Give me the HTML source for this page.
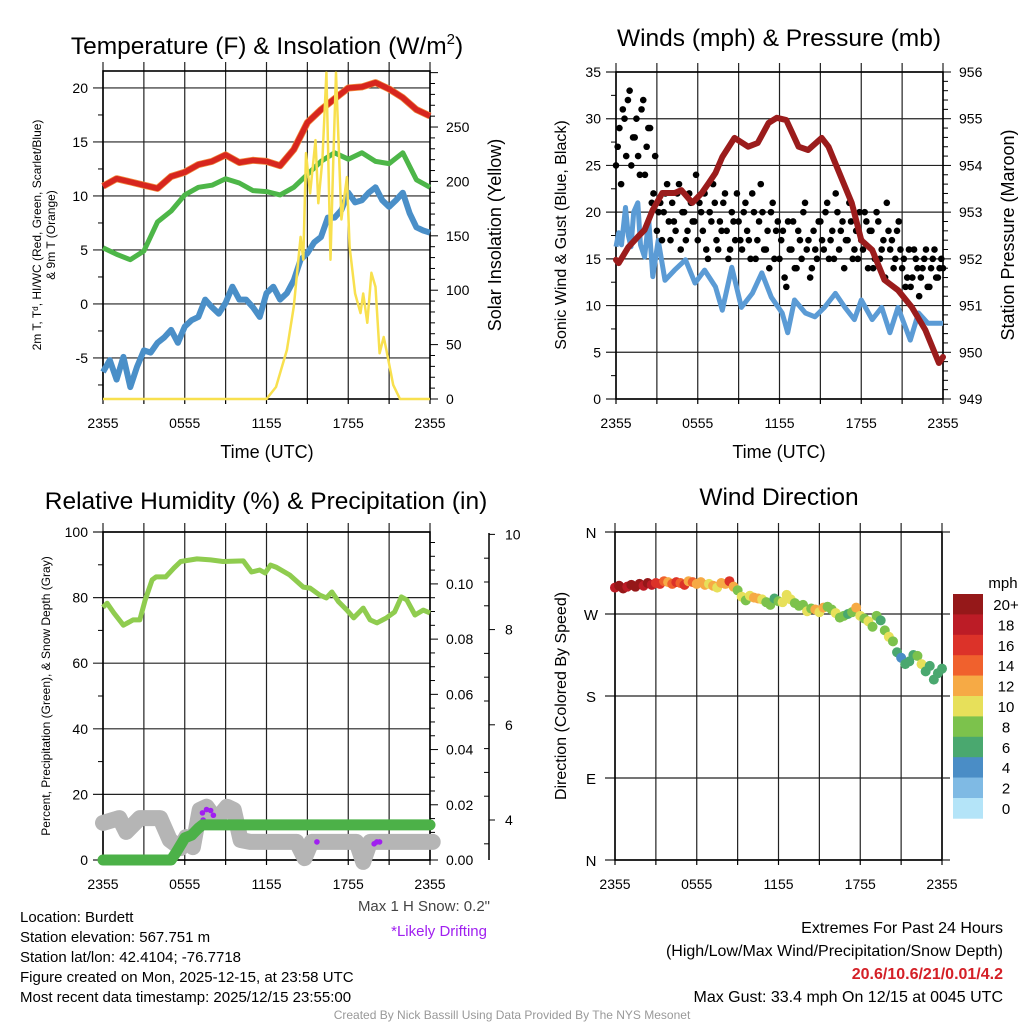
<!DOCTYPE html>
<html><head><meta charset="utf-8"><style>
html,body{margin:0;padding:0;background:#fff;}
svg{display:block;font-family:"Liberation Sans",Arial,sans-serif;}
</style></head><body>
<svg id="chart" width="1024" height="1024" viewBox="0 0 1024 1024" xmlns="http://www.w3.org/2000/svg"></svg>
<script>
// ---------- DATA ----------
const hourTicks = [0,6,12,18,24];
const timeLabels = ["2355","0555","1155","1755","2355"];
const hourly = [0,1,2,3,4,5,6,7,8,9,10,11,12,13,14,15,16,17,18,19,20,21,22,23,24];
const tempRed = [10.9,11.6,11.3,11.0,10.7,11.8,12.2,12.9,13.2,13.8,13.1,13.3,13.2,12.8,14.3,16.8,18.0,19.0,20.0,20.1,20.5,19.9,19.1,18.0,17.4];
const dewGreen = [5.2,4.6,4.1,4.9,7.6,8.6,10.1,10.8,11.0,11.6,11.2,10.5,10.4,10.1,10.8,12.0,13.2,14.0,13.4,14.0,13.2,13.0,14.0,11.5,10.8];
const halfHourly = [0,0.5,1,1.5,2,2.5,3,3.5,4,4.5,5,5.5,6,6.5,7,7.5,8,8.5,9,9.5,10,10.5,11,11.5,12,12.5,13,13.5,14,14.5,15,15.5,16,16.5,17,17.5,18,18.5,19,19.5,20,20.5,21,21.5,22,22.5,23,23.5,24];
const windChill = [-6.3,-5.2,-7.0,-4.9,-7.7,-5.8,-4.3,-4.5,-3.6,-3.1,-2.4,-3.6,-2.1,-1.5,-1.2,0.4,-0.3,-0.9,0.1,1.6,0.4,0.4,-0.3,-1.2,1.0,1.6,0.4,1.0,2.2,4.1,4.7,5.7,6.2,8.0,8.0,8.7,10.3,9.4,9.6,10.3,10.8,9.6,9.0,9.6,10.3,8.4,7.1,6.8,6.6];
const solarHours = [0,12,12.7,13.5,14,14.5,14.7,14.9,15.2,15.6,15.8,16.1,16.4,16.7,16.9,17.1,17.5,17.9,18.1,18.5,18.9,19.1,19.4,19.7,20,20.3,20.6,20.8,21.3,21.8,24];
const solarValues = [0,0,11,45,85,149,128,226,189,238,180,220,300,128,220,300,165,204,140,97,79,97,70,116,103,42,57,45,13,0,0];

const presHours = [0,0.2,0.9,1.6,2.1,2.7,3.4,4.3,4.8,5.6,6.3,6.8,7.3,7.8,8.7,9.7,10.4,11.2,11.8,12.5,13.4,14.1,15.1,15.6,16.6,17.3,18.0,18.8,19.7,20.7,21.7,22.7,23.7,24];
const presValues = [951.98,951.91,952.25,952.47,952.62,953.05,953.41,953.41,953.47,953.2,953.41,953.62,953.84,954.18,954.59,954.4,954.48,954.91,955.02,954.97,954.4,954.33,954.59,954.4,953.69,953.2,952.4,952.19,951.55,951.33,950.97,950.48,949.77,949.9];
const sonicHours = [0,0.2,0.4,0.7,0.9,1.1,1.3,1.6,1.8,2.1,2.4,2.7,3.1,3.6,4.3,5.1,5.8,6.5,7.3,7.8,8.5,9.2,10,10.7,11.4,12.2,12.6,13.1,13.9,14.6,15.3,16.1,16.8,17.5,18.0,18.8,19.5,20.1,20.7,21.6,22.2,22.9,24];
const sonicValues = [16.3,17.8,16.5,20.5,17.5,16.3,20.0,21,16.5,15.2,19.2,13.1,17,12.7,13.8,14.9,12.4,13.8,12,9.5,14.1,9.8,11.3,13.5,10.9,9.2,7.1,10.6,9.2,8.8,9.8,11.3,9.8,8.5,10.6,8.5,9.8,7.1,9.8,6.3,9.2,8.1,8.1];
const gustsA = [25,29,31,26,33,28,30,24,32,27,29,22, 18,21,20,23,17,19,22,16,20,18,21,19, 17,20,22,15,19,21,16,18,22,15,20,17, 19,16,21,17,22,15,19,20,16,14,21,18, 15,18,12,16,19,14,17,20,16,13,18,15, 19,16,21,17,15,20,18,14,17,19,16,15, 17,20,14,18,15,19,16,13,18,17,15,19, 14,12,16,13,15,11,14,16,12,15,13,14,14];
const gustsB = [27,23,30,32,25,28,26,31,24,29,21,26, 20,17,22,19,21,18,23,20,17,22,19,24, 21,18,16,20,23,17,19,21,18,16,19,22, 17,20,18,15,20,17,23,16,18,20,15,19, 17,13,19,16,14,18,15,21,17,14,16,19, 17,20,15,18,22,16,19,17,21,15,18,20, 16,19,18,14,20,15,17,21,16,14,18,16, 15,13,12,16,14,13,15,12,14,16,13,15];

const rhHours = [0,0.3,0.8,1.5,2.2,2.7,3.1,3.6,3.9,4.6,5.2,5.7,6.9,7.9,8.8,10.3,10.9,11.5,11.9,12.3,12.7,13.7,14.7,15.2,15.9,16.4,16.8,17.3,17.9,18.4,19.1,19.6,20.1,20.8,21.4,21.9,22.3,22.9,23.5,24];
const rhValues = [77,78.3,75.3,71.6,73.2,73.2,79.3,85.4,86.3,86.3,89,91,91.8,91.5,91,91.2,87.8,88.4,87.5,89.9,89.3,86.9,83.2,82.9,80.8,79.9,81.7,78.7,76.2,73.8,76.8,73.2,72.3,73.8,75.6,80.2,79.3,74.7,76.2,75.3];
const precipHours = [0,5.0,5.4,6.0,6.5,7.0,7.3,24];
const precipValues = [0,0,0.003,0.008,0.009,0.0115,0.0127,0.0127];
const snowHours = [0,1.2,1.7,2.7,4.2,4.9,5.7,6.1,6.6,7.1,7.6,8.3,9.1,9.6,10.1,10.8,14.2,14.8,15.3,18.6,19.1,19.6,24.2];
const snowValues = [3.94,4.04,3.75,4.04,4.04,3.58,3.41,3.64,3.43,4.21,4.28,4.0,4.28,4.21,3.58,3.54,3.54,3.2,3.54,3.54,3.12,3.54,3.54];
const driftHours = [7.35,7.3,7.6,7.9,8.1,15.7,19.9,20.1,20.3];
const driftValues = [4.0,4.15,4.22,4.2,4.1,3.54,3.5,3.54,3.54];

const dirHours = [];
const dirValues = [299,301,298,300,302,300,303,301,304,302, 304,303,306,305,303,305,304,302,306,305, 303,305,302,303,301,299,304,303,306,300, 296,289,285,290,288,287,286,283,280,287, 284,283,291,286,282,279,280,273,276,275, 272,277,278,275,271,266,268,270,272,277, 268,265,262,256,268,263,252,245,240,228, 222,215,218,225,224,215,207,213,198,205, 210];
const dirSpeeds = [19,21,20,19,21,20,21,19,21,18, 16,17,14,13,15,16,15,16,13,15, 12,12,12,11,12,10,12,13,16,12, 9,10,9,10,13,12,10,9,8,7, 9,10,10,11,8,9,8,10,9,12, 10,12,8,9,10,8,8,7,9,12, 10,8,10,8,9,7,9,10,8,7, 5,7,6,7,8,10,7,6,7,6, 7];
for (let i=0;i<dirValues.length;i++) dirHours.push(i*0.3);
const speedBins = [0,2,4,6,8,10,12,14,16,18,20];
const speedLabels = ["0","2","4","6","8","10","12","14","16","18","20+"];
const speedColors = ["#b4e4f8","#7fbae4","#4a8dc6","#4aa86f","#7cc24c","#e7e05a","#f6aa45","#f0612d","#dc3229","#bc1c26","#951819"];

// ---------- DRAWING ----------
const NS="http://www.w3.org/2000/svg";
const svg=document.getElementById('chart');
function mk(tag, attrs, name, parent){
  const el=document.createElementNS(NS,tag);
  for(const k in attrs) el.setAttribute(k, attrs[k]);
  
  
  (parent||svg).appendChild(el);
  return el;
}
function txt(x,y,s,size,anchor,name,extra){
  const a=Object.assign({x:x,y:y,'font-size':size,'text-anchor':anchor||'middle',fill:'#000'},extra||{});
  const t=mk('text',a,name);
  t.textContent=s;
  return t;
}
function vtxt(x,y,s,size,name,extra){
  const a=Object.assign({x:0,y:0,'font-size':size,'text-anchor':'middle',fill:'#000',transform:`translate(${x},${y}) rotate(-90)`},extra||{});
  const t=mk('text',a,name);
  t.textContent=s;
  return t;
}
function makeX(p){return h=>p.x0+h*(p.x1-p.x0)/24;}
function makeY(p,lo,hi){return v=>p.y1-(v-lo)*(p.y1-p.y0)/(hi-lo);}
function pathD(xs,ys,X,Y){let d='';for(let i=0;i<xs.length;i++){d+=(i?'L':'M')+X(xs[i]).toFixed(1)+','+Y(ys[i]).toFixed(1);}return d;}

function frame(p, leftTicks, Yl, leftLabels, name){
  const X=makeX(p);
  for(let h=0;h<=24;h+=3){
    mk('line',{x1:X(h),y1:p.y0-9,x2:X(h),y2:p.y1,stroke:'#222','stroke-width':1.2},name+'-vgrid');
    mk('line',{x1:X(h),y1:p.y1,x2:X(h),y2:p.y1+5,stroke:'#000','stroke-width':1.2},name+'-xtick');
  }
  leftTicks.forEach((v,i)=>{
    const y=Yl(v);
    mk('line',{x1:p.x0-10,y1:y,x2:p.x1,y2:y,stroke:'#222','stroke-width':1.2},name+'-hgrid');
    if(leftLabels) txt(p.x0-15,y+5,leftLabels[i],14,'end',name+'-ytick-label');
  });
  mk('rect',{x:p.x0,y:p.y0,width:p.x1-p.x0,height:p.y1-p.y0,fill:'none',stroke:'#000','stroke-width':1.6},name+'-plot-frame');
  hourTicks.forEach((h,i)=>txt(X(h),p.y1+29,timeLabels[i],14,'middle',name+'-xtick-label'));
}

// ===== Panel 1 =====
const P1={x0:103,x1:430,y0:71,y1:399};
const X1=makeX(P1), Y1=makeY(P1,-8.8,21.57), Y1r=makeY(P1,0,301.5);
frame(P1,[-5,0,5,10,15,20],Y1,["-5","0","5","10","15","20"],'temp-panel');
for(let v=-7.5;v<=21;v+=5){mk('line',{x1:P1.x0-5,y1:Y1(v),x2:P1.x0,y2:Y1(v),stroke:'#000'},'temp-minor-tick');}
for(let v=0;v<=300;v+=10){const mj=v%50===0;mk('line',{x1:P1.x1,y1:Y1r(v),x2:P1.x1+(mj?8:5),y2:Y1r(v),stroke:'#000'},'solar-axis-tick');if(mj&&v<300)txt(P1.x1+16,Y1r(v)+5,String(v),14,'start','solar-tick-label');}
mk('path',{d:pathD(hourly,tempRed,X1,Y1),fill:'none',stroke:'#f08a3c','stroke-width':7,'stroke-linejoin':'round'},'9m-temperature-line');
mk('path',{d:pathD(hourly,tempRed,X1,Y1),fill:'none',stroke:'#d7261e','stroke-width':5.5,'stroke-linejoin':'round'},'temperature-line');
mk('path',{d:pathD(hourly,dewGreen,X1,Y1),fill:'none',stroke:'#4db648','stroke-width':5,'stroke-linejoin':'round'},'dewpoint-line');
mk('path',{d:pathD(halfHourly,windChill,X1,Y1),fill:'none',stroke:'#4a8fc8','stroke-width':6,'stroke-linejoin':'round'},'wind-chill-line');
mk('path',{d:pathD(solarHours,solarValues,X1,Y1r),fill:'none',stroke:'#f8e04e','stroke-width':2.5,'stroke-linejoin':'round'},'solar-insolation-line');
const t1=txt(267,54,'Temperature (F) & Insolation (W/m',24.5,'middle','temp-panel-title');
const sup=document.createElementNS(NS,'tspan');sup.setAttribute('dy','-10');sup.setAttribute('font-size','15');sup.textContent='2';t1.appendChild(sup);
const cl=document.createElementNS(NS,'tspan');cl.setAttribute('dy','10');cl.textContent=')';t1.appendChild(cl);
txt(267,458,'Time (UTC)',18,'middle','temp-x-axis-title');
vtxt(41,235,'2m T, T\u1d48, HI/WC (Red, Green, Scarlet/Blue)',12,'temp-y-axis-title');
vtxt(55,235,'& 9m T (Orange)',12,'temp-y-axis-title-line2');
vtxt(501,235,'Solar Insolation (Yellow)',18,'solar-y-axis-title');

// ===== Panel 2 =====
const P2={x0:616,x1:943,y0:72,y1:399};
const X2=makeX(P2), Y2=makeY(P2,0,35), Y2r=makeY(P2,949,956);
frame(P2,[0,5,10,15,20,25,30,35],Y2,["0","5","10","15","20","25","30","35"],'wind-panel');
for(let v=2.5;v<35;v+=5){mk('line',{x1:P2.x0-5,y1:Y2(v),x2:P2.x0,y2:Y2(v),stroke:'#000'},'wind-minor-tick');}
for(let v=949;v<=956.001;v+=0.2){const mj=Math.abs(v-Math.round(v))<0.01;mk('line',{x1:P2.x1,y1:Y2r(v),x2:P2.x1+(mj?8:5),y2:Y2r(v),stroke:'#000'},'pressure-axis-tick');if(mj)txt(P2.x1+16,Y2r(v)+5,String(Math.round(v)),14,'start','pressure-tick-label');}
mk('path',{d:pathD(sonicHours,sonicValues,X2,Y2),fill:'none',stroke:'#5b9bd5','stroke-width':5,'stroke-linejoin':'round'},'sonic-wind-line');
gustsA.forEach((g,i)=>{mk('circle',{cx:X2(i*0.25),cy:Y2(g),r:3.3,fill:'#000'},'gust-point');});
gustsB.forEach((g,i)=>{mk('circle',{cx:X2(i*0.25+0.125),cy:Y2(g),r:3.3,fill:'#000'},'gust-point');});
mk('path',{d:pathD(presHours,presValues,X2,Y2r),fill:'none',stroke:'#9b1c1c','stroke-width':6,'stroke-linejoin':'round','stroke-linecap':'round'},'pressure-line');
txt(779,46,'Winds (mph) & Pressure (mb)',24.5,'middle','wind-panel-title');
txt(779,458,'Time (UTC)',18,'middle','wind-x-axis-title');
vtxt(566,235,'Sonic Wind & Gust (Blue, Black)',16,'wind-y-axis-title');
vtxt(1014,235,'Station Pressure (Maroon)',18,'pressure-y-axis-title');

// ===== Panel 3 =====
const P3={x0:103,x1:430,y0:532,y1:860};
const X3=makeX(P3), Y3=makeY(P3,0,100), Y3p=makeY(P3,0,0.1188), Y3s=makeY(P3,3.16,10.05);
frame(P3,[0,20,40,60,80,100],Y3,["0","20","40","60","80","100"],'rh-panel');
for(let v=10;v<100;v+=20){mk('line',{x1:P3.x0-5,y1:Y3(v),x2:P3.x0,y2:Y3(v),stroke:'#000'},'rh-minor-tick');}
for(let k=0;k<=23;k++){const v=k*0.005;const mj=k%4===0;mk('line',{x1:P3.x1,y1:Y3p(v),x2:P3.x1+(mj?8:5),y2:Y3p(v),stroke:'#000'},'precip-axis-tick');if(mj)txt(P3.x1+16,Y3p(v)+5,v.toFixed(2),14,'start','precip-tick-label');}
mk('line',{x1:489,y1:533,x2:489,y2:860,stroke:'#000','stroke-width':1.5},'snow-axis-line');
for(let k=7;k<=20;k++){const v=k*0.5;const mj=k%4===0;mk('line',{x1:mj?489:484,y1:Y3s(v),x2:mj?495:489,y2:Y3s(v),stroke:'#000'},'snow-axis-tick');if(mj)txt(505,Y3s(v)+5,String(v),14,'start','snow-tick-label');}
mk('path',{d:pathD(snowHours,snowValues,X3,Y3s),fill:'none',stroke:'#b5b5b5','stroke-width':16,'stroke-linejoin':'round','stroke-linecap':'round'},'snow-depth-line');
driftHours.forEach((h,i)=>{mk('circle',{cx:X3(h),cy:Y3s(driftValues[i]),r:2.8,fill:'#a020f0'},'drifting-point');});
mk('path',{d:pathD(precipHours,precipValues,X3,Y3p),fill:'none',stroke:'#4cb148','stroke-width':11,'stroke-linejoin':'round','stroke-linecap':'round'},'precipitation-line');
mk('path',{d:pathD(rhHours,rhValues,X3,Y3),fill:'none',stroke:'#8fcc4f','stroke-width':5,'stroke-linejoin':'round'},'relative-humidity-line');
txt(266,509,'Relative Humidity (%) & Precipitation (in)',24.5,'middle','rh-panel-title');
vtxt(50,696,'Percent, Precipitation (Green), & Snow Depth (Gray)',12,'rh-y-axis-title');

// ===== Panel 4 =====
const P4={x0:615,x1:942,y0:532,y1:860};
const X4=makeX(P4), Y4=makeY(P4,0,360);
frame(P4,[0,90,180,270,360],Y4,null,'dir-panel');
const dirLbl=["N","E","S","W","N"];
[0,90,180,270,360].forEach((v,i)=>{mk('line',{x1:P4.x1,y1:Y4(v),x2:P4.x1+8,y2:Y4(v),stroke:'#222','stroke-width':1.2},'dir-grid-ext');txt(591,Y4(v)+6,dirLbl[i],15,'middle','dir-tick-label');});
function speedColor(s){let c=speedColors[0];speedBins.forEach((b,i)=>{if(s>=b)c=speedColors[i];});return c;}
dirValues.forEach((d,i)=>{mk('circle',{cx:X4(dirHours[i]),cy:Y4(d),r:5,fill:speedColor(dirSpeeds[i])},'wind-direction-point');});
txt(779,505,'Wind Direction',24.5,'middle','dir-panel-title');
vtxt(566,696,'Direction (Colored By Speed)',16,'dir-y-axis-title');
const cbTop=594, cbH=20.4;
speedColors.slice().reverse().forEach((c,i)=>{mk('rect',{x:953,y:cbTop+i*cbH,width:30,height:cbH+0.3,fill:c},'colorbar-swatch');});
speedLabels.slice().reverse().forEach((l,i)=>{txt(1006,cbTop+i*cbH+16,l,15,'middle','colorbar-label');});
txt(1003,588,'mph',15,'middle','colorbar-title');

// ===== Footer text =====
const info=["Location: Burdett","Station elevation: 567.751 m","Station lat/lon: 42.4104; -76.7718","Figure created on Mon, 2025-12-15, at 23:58 UTC","Most recent data timestamp: 2025/12/15 23:55:00"];
info.forEach((s,i)=>txt(20,922+i*20,s,15,'start','station-info-line'));
txt(490,911,'Max 1 H Snow: 0.2"',15,'end','max-snow-note',{fill:'#444'});
txt(487,936,'*Likely Drifting',15,'end','drifting-note',{fill:'#a020f0'});
txt(1003,933,'Extremes For Past 24 Hours',16,'end','extremes-title');
txt(1003,956,'(High/Low/Max Wind/Precipitation/Snow Depth)',16,'end','extremes-subtitle');
txt(1003,979,'20.6/10.6/21/0.01/4.2',16,'end','extremes-values',{fill:'#d42027','font-weight':'bold'});
txt(1003,1002,'Max Gust: 33.4 mph On 12/15 at 0045 UTC',16,'end','max-gust-note');
txt(512,1019,'Created By Nick Bassill Using Data Provided By The NYS Mesonet',12,'middle','credits',{fill:'#999'});
</script>
</body></html>
